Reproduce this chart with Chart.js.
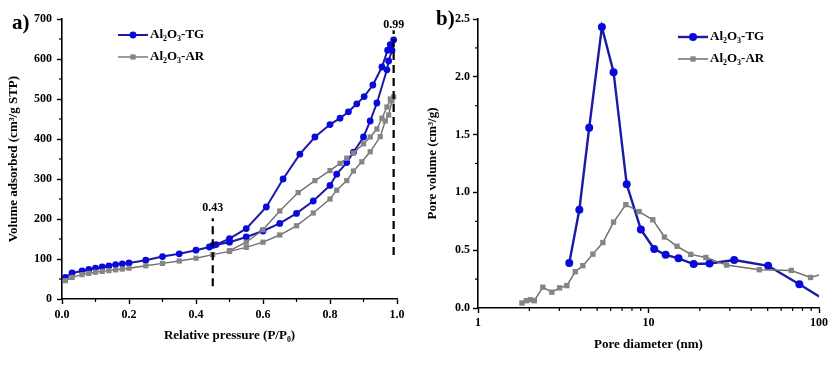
<!DOCTYPE html>
<html>
<head>
<meta charset="utf-8">
<script src="https://cdn.jsdelivr.net/npm/chart.js@4.4.0/dist/chart.umd.min.js"></script>
<style>
    html, body { margin: 0; padding: 0; background: #fff; }
    #wrap { position: relative; width: 840px; height: 366px; }
    .panel { position: absolute; top: 0; width: 420px; height: 366px; }
</style>
</head>
<body>
<div id="wrap">
    <div class="panel" style="left:0"><canvas id="isoChart" width="420" height="366"></canvas></div>
    <div class="panel" style="left:420px"><canvas id="poreChart" width="420" height="366"></canvas></div>
</div>
<script>
// ---- a) N2 isotherms: adsorption + desorption branches ----
const tgAdsP = [0.01, 0.03, 0.06, 0.08, 0.10, 0.12, 0.14, 0.16, 0.18, 0.20, 0.25, 0.30, 0.35, 0.40, 0.44, 0.45,
    0.50, 0.55, 0.60, 0.65, 0.70, 0.75, 0.80, 0.82, 0.85, 0.87, 0.90, 0.92, 0.94, 0.97, 0.975, 0.985];
const tgAdsV = [54, 65, 70, 74, 77, 80, 83, 86, 88, 90, 97, 106, 113, 122, 130, 134,
    142, 155, 170, 189, 214, 245, 284, 312, 341, 367, 405, 445, 490, 573, 595, 622];
const tgDesP = [0.99, 0.98, 0.972, 0.955, 0.928, 0.902, 0.88, 0.855, 0.83, 0.80, 0.755, 0.71, 0.66, 0.61, 0.55, 0.50, 0.46];
const tgDesV = [648, 636, 622, 580, 535, 506, 488, 468, 452, 436, 405, 362, 300, 230, 176, 151, 136];

const arAdsP = [0.01, 0.03, 0.06, 0.08, 0.10, 0.12, 0.14, 0.16, 0.18, 0.20, 0.25, 0.30, 0.35, 0.40, 0.45,
    0.50, 0.55, 0.60, 0.65, 0.70, 0.75, 0.80, 0.82, 0.85, 0.87, 0.895, 0.92, 0.95, 0.965, 0.975, 0.985];
const arAdsV = [46, 54, 61, 64, 67, 69, 71, 73, 75, 77, 83, 89, 95, 102, 111,
    119, 129, 142, 160, 183, 215, 250, 272, 296, 320, 343, 368, 406, 445, 460, 495];
const arDesP = [0.99, 0.98, 0.97, 0.955, 0.94, 0.92, 0.90, 0.87, 0.85, 0.83, 0.80, 0.755, 0.705, 0.65, 0.60, 0.55, 0.50];
const arDesV = [505, 500, 480, 452, 425, 405, 388, 365, 352, 339, 321, 296, 266, 220, 173, 142, 121];

// dashed markers on the isotherm plot
const markP = [0.45, 0.99];
const markLow = [32, 110];
const markHigh = [202, 672];
const markText = ['0.43', '0.99'];
const markTextV = [227, 686];

// ---- b) pore size distribution ----
const tgPoreD = [3.43, 3.93, 4.49, 5.33, 6.24, 7.45, 9.02, 10.8, 12.6, 15.0, 18.4, 22.8, 31.8, 50.3, 76.7, 120];
const tgPoreV = [0.39, 0.85, 1.56, 2.43, 2.04, 1.07, 0.68, 0.51, 0.46, 0.43, 0.38, 0.385, 0.415, 0.365, 0.205, 0.03];
const arPoreD = [1.81, 1.92, 2.03, 2.14, 2.40, 2.71, 3.01, 3.32, 3.72, 4.12, 4.72, 5.40, 6.24, 7.36, 8.81,
    10.6, 12.4, 14.7, 17.7, 21.7, 28.7, 44.7, 68.8, 89.2, 115];
const arPoreV = [0.043, 0.063, 0.071, 0.063, 0.18, 0.137, 0.174, 0.194, 0.314, 0.366, 0.466, 0.566, 0.743, 0.894, 0.834,
    0.763, 0.614, 0.534, 0.464, 0.437, 0.371, 0.331, 0.325, 0.264, 0.31];

// minor tick positions
const isoMinorX = [0.1, 0.3, 0.5, 0.7, 0.9];
const isoMinorY = [50, 150, 250, 350, 450, 550, 650];
const poreMinorX = [2, 3, 4, 5, 6, 7, 8, 9, 20, 30, 40, 50, 60, 70, 80, 90];
const poreMinorY = [0.25, 0.75, 1.25, 1.75, 2.25];

const labelTG = [['Al'], ['2', 'sub'], ['O'], ['3', 'sub'], ['-TG']];
const labelAR = [['Al'], ['2', 'sub'], ['O'], ['3', 'sub'], ['-AR']];

const SERIF = "'Liberation Serif', 'Times New Roman', serif";
const TG_LINE = '#1a1aa4';
const TG_MARK = '#0909dc';
const AR_LINE = '#6f6f6f';
const AR_MARK = '#858585';

Chart.defaults.font.family = SERIF;
Chart.defaults.font.weight = 'bold';
Chart.defaults.color = '#000';

function toPoints(xs, ys) {
    return xs.map((x, i) => ({ x: x, y: ys[i] }));
}

// draws a run of text pieces, some of them sub/superscript
function drawRich(ctx, parts, x, y, size) {
    parts.forEach(([t, kind]) => {
        const s = kind ? Math.round(size * 0.62) : size;
        ctx.font = 'bold ' + s + 'px ' + SERIF;
        const dy = kind === 'sub' ? size * 0.3 : (kind === 'sup' ? -size * 0.35 : 0);
        ctx.fillText(t, x, y + dy);
        x += ctx.measureText(t).width;
    });
}

const extras = {
    id: 'extras',
    afterDraw(chart, args, opts) {
        const ctx = chart.ctx;
        const xs = chart.scales.x, ys = chart.scales.y;
        ctx.save();
        // minor ticks
        ctx.strokeStyle = '#000';
        ctx.lineWidth = 1.2;
        opts.minorX.forEach(v => {
            const px = xs.getPixelForValue(v);
            ctx.beginPath(); ctx.moveTo(px, xs.top); ctx.lineTo(px, xs.top + 3); ctx.stroke();
        });
        opts.minorY.forEach(v => {
            const py = ys.getPixelForValue(v);
            ctx.beginPath(); ctx.moveTo(ys.right, py); ctx.lineTo(ys.right - 3, py); ctx.stroke();
        });
        // panel letter
        ctx.fillStyle = '#000';
        ctx.textBaseline = 'middle';
        ctx.textAlign = 'left';
        ctx.font = 'bold 21px ' + SERIF;
        ctx.fillText(opts.panel[0], opts.panel[1], opts.panel[2]);
        // legend
        opts.legend.forEach(entry => {
            const ds = chart.data.datasets[entry.ds];
            const y = entry.y;
            ctx.strokeStyle = ds.borderColor;
            ctx.lineWidth = ds.borderWidth;
            ctx.beginPath(); ctx.moveTo(entry.x, y); ctx.lineTo(entry.x + 30, y); ctx.stroke();
            ctx.fillStyle = ds.pointBackgroundColor;
            const cx = entry.x + 15;
            if (ds.pointStyle === 'rect') {
                const h = ds.pointRadius * Math.SQRT1_2;
                ctx.fillRect(cx - h, y - h, 2 * h, 2 * h);
            } else {
                ctx.beginPath(); ctx.arc(cx, y, ds.pointRadius, 0, Math.PI * 2); ctx.fill();
            }
            ctx.fillStyle = '#000';
            drawRich(ctx, entry.parts, entry.x + 32, y, 13);
        });
        // dashed marker labels
        if (opts.marks) {
            ctx.textAlign = 'center';
            ctx.font = 'bold 12px ' + SERIF;
            markText.forEach((t, i) => {
                ctx.fillText(t, xs.getPixelForValue(markP[i]), ys.getPixelForValue(markTextV[i]));
            });
        }
        ctx.restore();
    }
};

const tickFont = { size: 12, weight: 'bold', family: SERIF };
const titleFont = { size: 13, weight: 'bold', family: SERIF };
const axisGrid = { drawOnChartArea: false, drawTicks: true, tickLength: 5, tickColor: '#000', tickWidth: 1.4 };
const axisBorder = { display: true, color: '#000', width: 1.6 };

// ---------- chart a ----------
const isoDatasets = [
    {
        label: 'Al2O3-TG',
        data: toPoints(tgAdsP.concat(tgDesP), tgAdsV.concat(tgDesV)),
        borderColor: TG_LINE, borderWidth: 2,
        pointStyle: 'circle', pointRadius: 3.4, pointBackgroundColor: TG_MARK, pointBorderColor: TG_MARK, pointBorderWidth: 0,
        order: 2
    },
    {
        label: 'Al2O3-AR',
        data: toPoints(arAdsP.concat(arDesP), arAdsV.concat(arDesV)),
        borderColor: AR_LINE, borderWidth: 1.4,
        pointStyle: 'rect', pointRadius: 3.7, pointBackgroundColor: AR_MARK, pointBorderColor: AR_MARK, pointBorderWidth: 0,
        order: 1
    }
];
markP.forEach((p, i) => {
    isoDatasets.push({
        data: [{ x: p, y: markLow[i] }, { x: p, y: markHigh[i] }],
        borderColor: '#000', borderWidth: 2.2, borderDash: [8, 5], pointRadius: 0, order: 0
    });
});

new Chart(document.getElementById('isoChart'), {
    type: 'line',
    data: { datasets: isoDatasets },
    options: {
        responsive: false,
        animation: false,
        layout: { padding: { top: 19, right: 23, left: 0, bottom: 0 } },
        plugins: {
            legend: { display: false },
            tooltip: { enabled: false },
            extras: {
                minorX: isoMinorX, minorY: isoMinorY,
                panel: ['a)', 12, 24],
                marks: true,
                legend: [
                    { ds: 0, x: 118, y: 35, parts: labelTG },
                    { ds: 1, x: 118, y: 57, parts: labelAR }
                ]
            }
        },
        elements: { line: { tension: 0 } },
        scales: {
            x: {
                type: 'linear', min: 0, max: 1,
                ticks: { stepSize: 0.2, callback: v => v.toFixed(1), font: tickFont, color: '#000', padding: 4, maxRotation: 0 },
                grid: axisGrid, border: axisBorder,
                title: { display: true, text: 'Relative pressure (P/P\u2080)', font: titleFont, color: '#000', padding: { top: 0, bottom: 23 } },
                afterFit: s => { s.height = 67; }
            },
            y: {
                type: 'linear', min: 0, max: 700,
                ticks: { stepSize: 100, font: tickFont, color: '#000', padding: 5 },
                grid: axisGrid, border: axisBorder,
                title: { display: true, text: 'Volume adsorbed (cm\u00b3/g STP)', font: titleFont, color: '#000', padding: { top: 6, bottom: 0 } },
                afterFit: s => { s.width = 62; }
            }
        }
    },
    plugins: [extras]
});

// ---------- chart b ----------
new Chart(document.getElementById('poreChart'), {
    type: 'line',
    data: {
        datasets: [
            {
                label: 'Al2O3-TG',
                data: toPoints(tgPoreD, tgPoreV),
                borderColor: TG_LINE, borderWidth: 2.4,
                pointStyle: 'circle', pointRadius: 4, pointBackgroundColor: TG_MARK, pointBorderColor: TG_MARK, pointBorderWidth: 0,
                order: 2
            },
            {
                label: 'Al2O3-AR',
                data: toPoints(arPoreD, arPoreV),
                borderColor: AR_LINE, borderWidth: 1.5,
                pointStyle: 'rect', pointRadius: 3.8, pointBackgroundColor: AR_MARK, pointBorderColor: AR_MARK, pointBorderWidth: 0,
                order: 1
            }
        ]
    },
    options: {
        responsive: false,
        animation: false,
        layout: { padding: { top: 19, right: 21, left: 0, bottom: 0 } },
        plugins: {
            legend: { display: false },
            tooltip: { enabled: false },
            extras: {
                minorX: poreMinorX, minorY: poreMinorY,
                panel: ['b)', 16, 20],
                marks: false,
                legend: [
                    { ds: 0, x: 258, y: 37, parts: labelTG },
                    { ds: 1, x: 258, y: 59, parts: labelAR }
                ]
            }
        },
        elements: { line: { tension: 0 } },
        scales: {
            x: {
                type: 'logarithmic', min: 1, max: 100,
                afterBuildTicks: s => { s.ticks = [1, 10, 100].map(v => ({ value: v })); },
                ticks: { callback: v => String(v), font: tickFont, color: '#000', padding: 3, maxRotation: 0, autoSkip: false },
                grid: axisGrid, border: axisBorder,
                title: { display: true, text: 'Pore diameter (nm)', font: titleFont, color: '#000', padding: { top: 0, bottom: 14 } },
                afterFit: s => { s.height = 58; }
            },
            y: {
                type: 'linear', min: 0, max: 2.5,
                ticks: { stepSize: 0.5, callback: v => v.toFixed(1), font: tickFont, color: '#000', padding: 3 },
                grid: axisGrid, border: axisBorder,
                title: { display: true, text: 'Pore volume (cm\u00b3/g)', font: titleFont, color: '#000', padding: { top: 5, bottom: 0 } },
                afterFit: s => { s.width = 58; }
            }
        }
    },
    plugins: [extras]
});
</script>
</body>
</html>
